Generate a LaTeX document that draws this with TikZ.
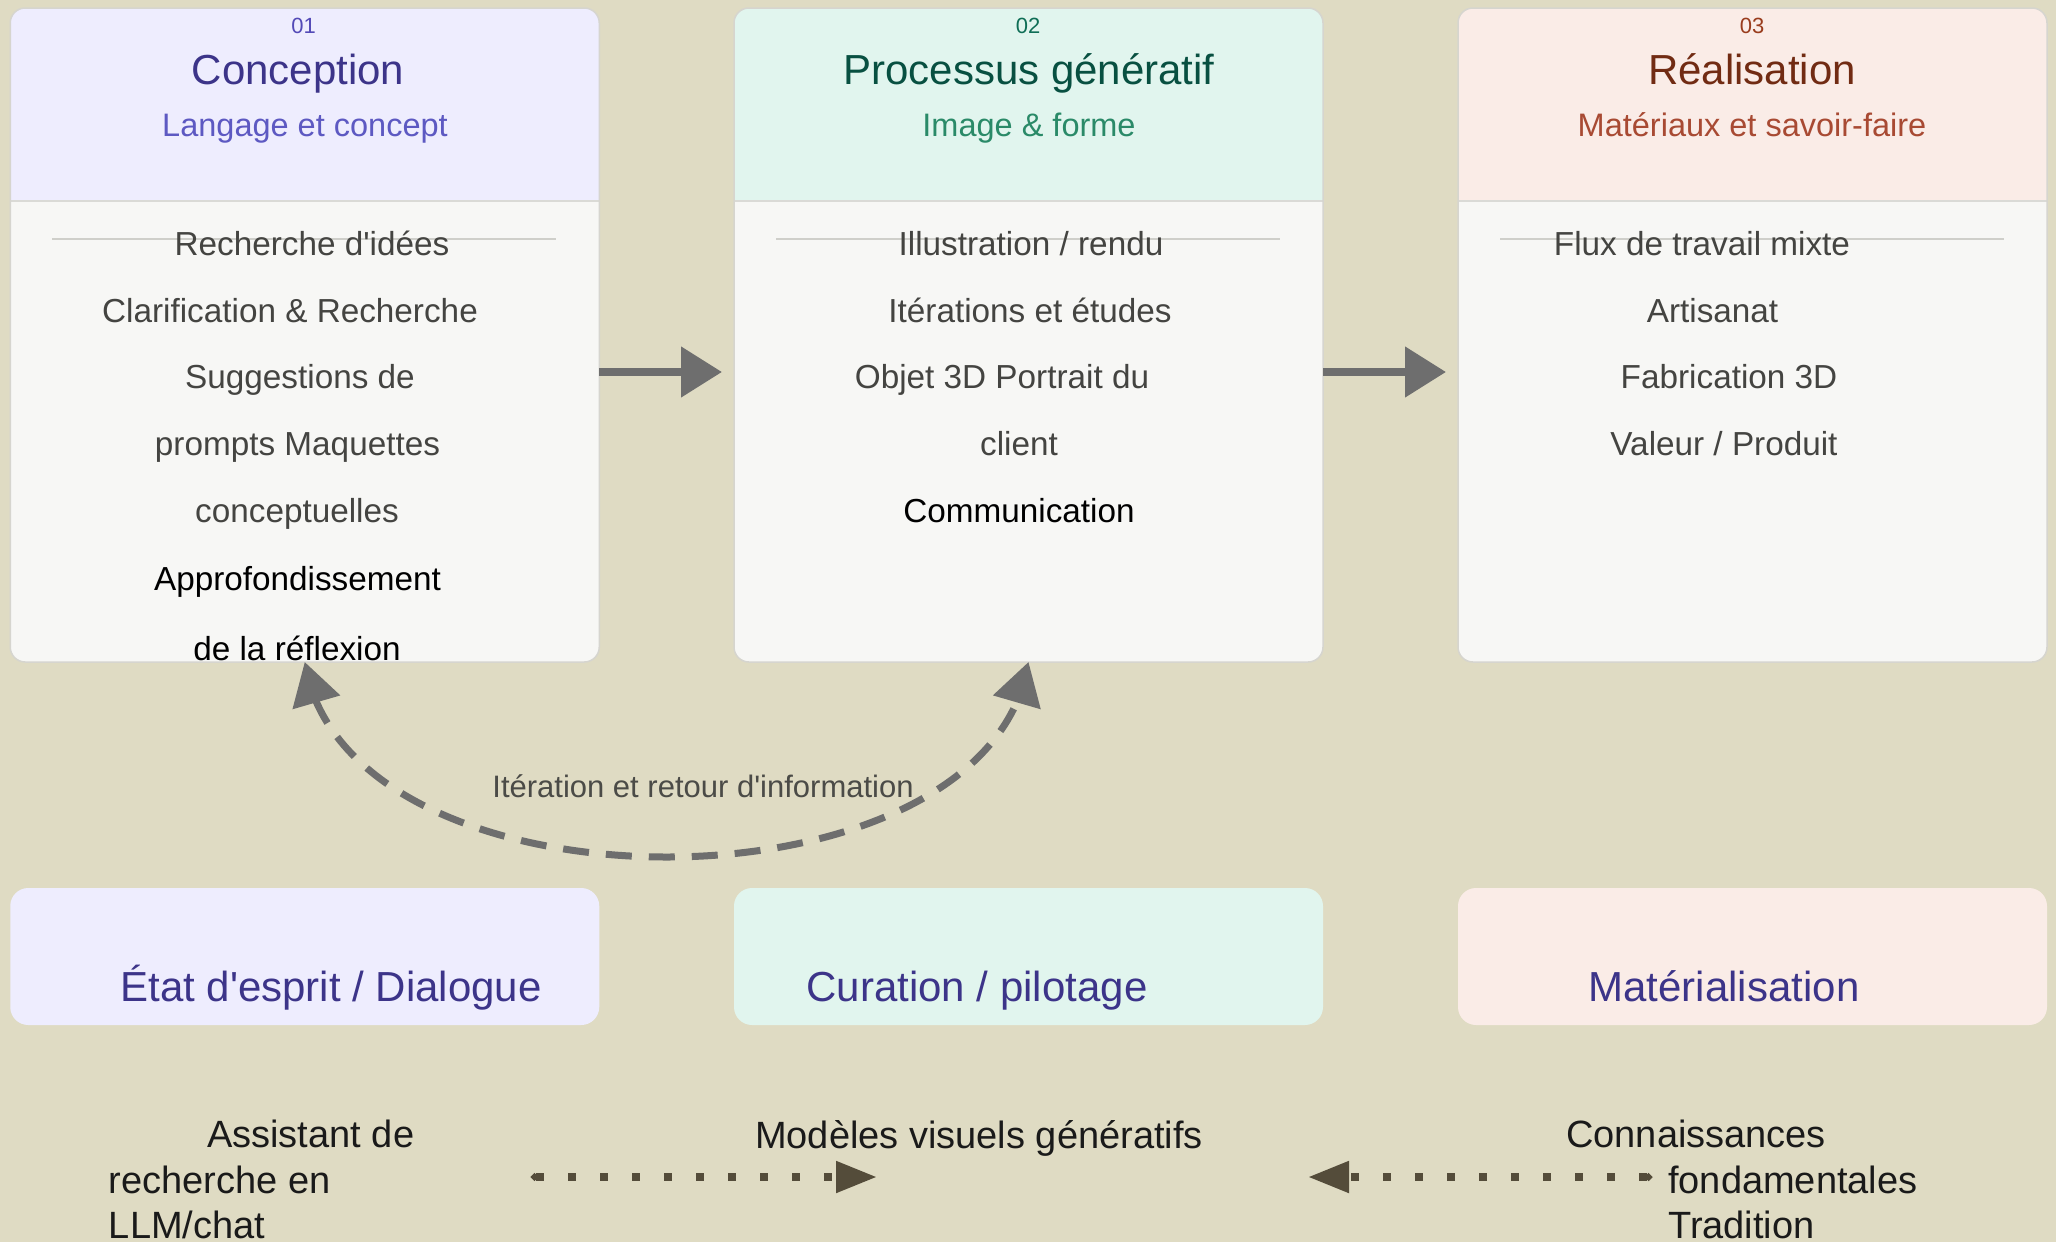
\documentclass[tikz,border=0pt]{standalone}
\usepackage{fontspec}
\setmainfont{Liberation Sans}
\usetikzlibrary{arrows.meta,bending}

\definecolor{bg}{HTML}{DFDBC3}
\definecolor{bodyfill}{HTML}{F7F7F5}
\definecolor{frame}{HTML}{D6D5CF}
\definecolor{divline}{HTML}{DADAD6}
\definecolor{rulecol}{HTML}{CFCFCA}
\definecolor{hdrA}{HTML}{EEEDFE}
\definecolor{hdrB}{HTML}{E1F5EE}
\definecolor{hdrC}{HTML}{FAECE7}
\definecolor{numA}{HTML}{534AB7}
\definecolor{ttlA}{HTML}{3C3489}
\definecolor{subA}{HTML}{5D59C2}
\definecolor{numB}{HTML}{0F6E56}
\definecolor{ttlB}{HTML}{085041}
\definecolor{subB}{HTML}{2A8A68}
\definecolor{numC}{HTML}{993C1D}
\definecolor{ttlC}{HTML}{712B13}
\definecolor{subC}{HTML}{A84A33}
\definecolor{itemgray}{HTML}{444441}
\definecolor{flowgray}{HTML}{6E6E6E}
\definecolor{dotbrown}{HTML}{544C3A}
\definecolor{lblgray}{HTML}{4B4B47}
\definecolor{ink}{HTML}{1A1A1A}

\newcommand\myfs[1]{\fontsize{#1}{#1}\selectfont}
\newcommand\apos{\textquotesingle}

% #1 center x, #2 header colour
\newcommand\cardback[2]{%
  \fill[bodyfill, rounded corners=15pt] (#1-294.5,8) rectangle (#1+294.5,662);
  \begin{scope}
    \clip[rounded corners=15pt] (#1-294.5,8) rectangle (#1+294.5,662);
    \fill[#2] (#1-294.5,8) rectangle (#1+294.5,201);
  \end{scope}
  \draw[divline, line width=2pt] (#1-294.5,201) -- (#1+294.5,201);
  \draw[rulecol, line width=1.2pt] (#1-252.5,239) -- (#1+251.5,239);
}

\tikzset{
  cardframe/.style={draw=frame, line width=1.5pt, rounded corners=15pt,
    inner sep=0pt, outer sep=0pt, minimum width=589pt, minimum height=654pt},
  footbox/.style={rounded corners=18pt, inner sep=0pt, outer sep=0pt,
    minimum width=589pt, minimum height=137pt},
  numtxt/.style={anchor=base, inner sep=0pt, font=\myfs{22}},
  ttltxt/.style={anchor=base, inner sep=0pt, font=\myfs{42}},
  subtxt/.style={anchor=base, inner sep=0pt, font=\myfs{32.5}},
  item/.style={anchor=base, inner sep=0pt, font=\myfs{33.3}, text=itemgray},
  itemdark/.style={item, text=black},
  footlbl/.style={anchor=base, inner sep=0pt, font=\myfs{42}, text=ttlA},
  flow/.style={draw=flowgray, line width=8pt,
    -{Triangle[length=41pt,width=49pt]}},
  loopback/.style={draw=flowgray, line width=7pt, dash pattern=on 26pt off 17pt,
    {Triangle[length=42pt,width=48pt,flex]}-{Triangle[length=42pt,width=48pt,flex]}},
  srcdots/.style={draw=dotbrown, line width=8pt, dash pattern=on 8pt off 24pt,
    {Circle[length=7pt]}-{Triangle[length=41pt,width=30pt]}},
  note/.style={inner sep=0pt, align=left, text=ink,
    font=\fontsize{38}{45.5}\selectfont},
}

\begin{document}
\begin{tikzpicture}[x=1pt, y=-1pt]
\useasboundingbox (0,0) rectangle (2056,1242);
\fill[bg] (0,0) rectangle (2056,1242);

% ---- cards ----
\cardback{304.75}{hdrA}
\cardback{1028.5}{hdrB}
\cardback{1752.5}{hdrC}
\node[cardframe] (c1) at (304.75,335) {};
\node[cardframe] (c2) at (1028.5,335) {};
\node[cardframe] (c3) at (1752.5,335) {};

% card 1
\node[numtxt, text=numA] (c1n) at (303.6,33.4) {01};
\node[ttltxt, text=ttlA] (c1t) at (298,84.6) {Conception};
\node[subtxt, text=subA] (c1s) at (305,136.6) {Langage et concept};
\node[item] (c1i1) at (312,255) {Recherche d\apos idées};
\node[item] (c1i2) at (290,322) {Clarification \& Recherche};
\node[item] (c1i3) at (300,388.5) {Suggestions de};
\node[item] (c1i4) at (297.5,455) {prompts Maquettes};
\node[item] (c1i5) at (297,522.5) {conceptuelles};
\node[itemdark] (c1i6) at (297.5,590.5) {Approfondissement};
\node[itemdark] (c1i7) at (297,660) {de la réflexion};

% card 2
\node[numtxt, text=numB] (c2n) at (1028,33.4) {02};
\node[ttltxt, text=ttlB] (c2t) at (1029,84.6) {Processus génératif};
\node[subtxt, text=subB] (c2s) at (1029,136.6) {Image \& forme};
\node[item] (c2i1) at (1031,255) {Illustration / rendu};
\node[item] (c2i2) at (1030,322) {Itérations et études};
\node[item] (c2i3) at (1002,388.5) {Objet 3D Portrait du};
\node[item] (c2i4) at (1019,455) {client};
\node[itemdark] (c2i5) at (1019,522.5) {Communication};

% card 3
\node[numtxt, text=numC] (c3n) at (1752,33.4) {03};
\node[ttltxt, text=ttlC] (c3t) at (1752,84.6) {Réalisation};
\node[subtxt, text=subC] (c3s) at (1752,136.6) {Matériaux et savoir-faire};
\node[item] (c3i1) at (1702,255) {Flux de travail mixte};
\node[item] (c3i2) at (1712.5,322) {Artisanat};
\node[item] (c3i3) at (1729,388.5) {Fabrication 3D};
\node[item] (c3i4) at (1724,455) {Valeur / Produit};

% ---- flow arrows ----
\draw[flow, shorten >=12pt] ([yshift=-37pt]c1.east) -- ([yshift=-37pt]c2.west);
\draw[flow, shorten >=12pt] ([yshift=-37pt]c2.east) -- ([yshift=-37pt]c3.west);

% ---- feedback loop ----
\draw[loopback] (c1.south) .. controls +(40,260) and +(-40,260) .. (c2.south);
\node[anchor=base, inner sep=0pt, font=\myfs{31}, text=lblgray] (loopl)
  at (703,797) {Itération et retour d\apos information};

% ---- bottom boxes ----
\node[footbox, fill=hdrA] (f1) at (304.75,956.5) {};
\node[footbox, fill=hdrB] (f2) at (1028.5,956.5) {};
\node[footbox, fill=hdrC] (f3) at (1752.5,956.5) {};
\node[footlbl] (f1t) at (331,1001) {État d\apos esprit / Dialogue};
\node[footlbl] (f2t) at (977,1001) {Curation / pilotage};
\node[footlbl] (f3t) at (1724,1001) {Matérialisation};

% ---- sources ----
\node[note, anchor=north west] (tA) at (108.7,1120)
  {\hspace*{98.3pt}Assistant de\\recherche en\\LLM/chat};
\node[anchor=base, inner sep=0pt, text=ink, font=\myfs{38}] (tB)
  at (979,1148) {Modèles visuels génératifs};
\node[note, anchor=north west] (tC) at (1566,1120)
  {Connaissances\\\hspace*{102pt}fondamentales\\\hspace*{102pt}Tradition};

\coordinate (dA0) at (531,1177);
\coordinate (dA1) at (877,1177);
\coordinate (dB0) at (1652,1177);
\coordinate (dB1) at (1308,1177);
\draw[srcdots] (dA0) -- (dA1);
\draw[srcdots] (dB0) -- (dB1);
\end{tikzpicture}
\end{document}
